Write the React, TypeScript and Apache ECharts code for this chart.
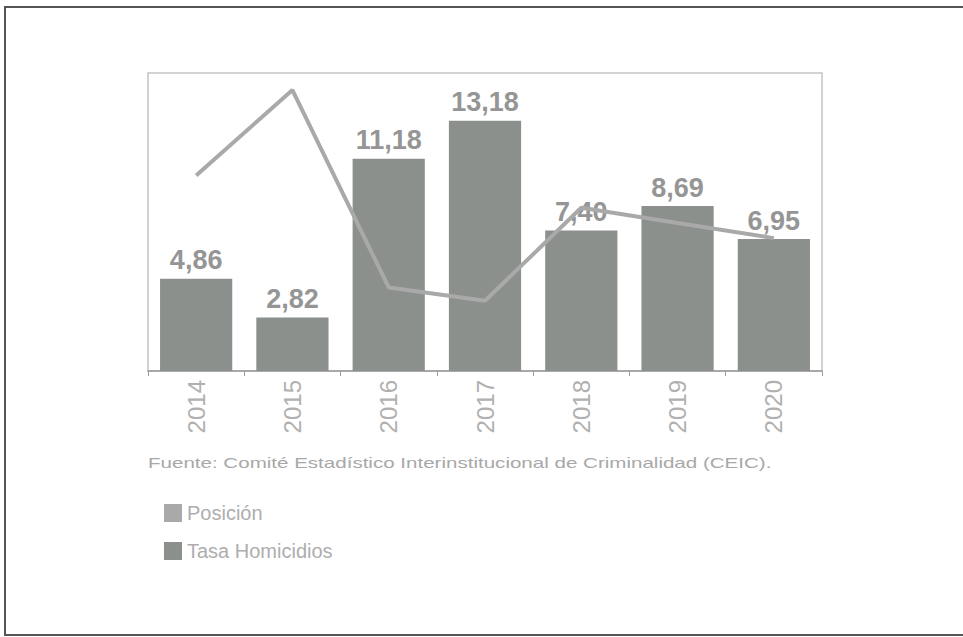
import React, { useEffect, useRef } from "react";
import * as echarts from "echarts";

const years = ["2014", "2015", "2016", "2017", "2018", "2019", "2020"];
const tasaHomicidios = [4.86, 2.82, 11.18, 13.18, 7.4, 8.69, 6.95];
const posicion = [10.3, 14.8, 4.4, 3.7, 8.6, 7.8, 7.0];
const sourceText = "Fuente: Comité Estadístico Interinstitucional de Criminalidad (CEIC).";

const fmt = (v: number) => v.toFixed(2).replace(".", ",");

export default function App() {
  const ref = useRef<HTMLDivElement>(null);
  useEffect(() => {
    document.body.style.margin = "0";
    const chart = echarts.init(ref.current!, null, { renderer: "svg" });
    const font = "'Liberation Sans', Arial, sans-serif";
    chart.setOption({
      animation: false,
      backgroundColor: "#ffffff",
      grid: { left: 148, right: 141, top: 73, bottom: 266, show: true, borderColor: "#c4c4c4", borderWidth: 1.5 },
      legend: {
        orient: "vertical",
        left: 159,
        top: 498,
        itemWidth: 18,
        itemHeight: 18,
        itemGap: 18,
        icon: "rect",
        textStyle: { color: "#adadad", fontSize: 20, fontFamily: font },
        data: ["Posición", "Tasa Homicidios"],
      },
      xAxis: {
        type: "category",
        data: years,
        axisLine: { lineStyle: { color: "#9a9a9a", width: 1.5 } },
        axisTick: { show: true, length: 5, lineStyle: { color: "#9a9a9a" } },
        axisLabel: { rotate: 90, color: "#b0b0b0", fontSize: 24, fontFamily: font, margin: 9 },
      },
      yAxis: [
        { type: "value", min: 0, max: 15.7, show: false, splitLine: { show: false } },
        { type: "value", min: 0, max: 15.7, show: false, splitLine: { show: false } },
      ],
      series: [
        {
          name: "Tasa Homicidios",
          type: "bar",
          data: tasaHomicidios,
          barWidth: "75%",
          itemStyle: { color: "#8b908d" },
          label: {
            show: true,
            position: "top",
            distance: 5,
            color: "#959595",
            fontSize: 27,
            fontWeight: "bold",
            fontFamily: font,
            formatter: (p: any) => fmt(p.value),
          },
          z: 2,
        },
        {
          name: "Posición",
          type: "line",
          yAxisIndex: 1,
          data: posicion,
          symbol: "none",
          lineStyle: { color: "#a9a9a9", width: 4 },
          itemStyle: { color: "#a9a9a9" },
          z: 3,
        },
      ],
      graphic: [
        {
          type: "rect",
          shape: { x: 5, y: 7, width: 1000, height: 628 },
          style: { fill: "none", stroke: "#555", lineWidth: 2 },
          silent: true,
        },
        {
          type: "text",
          x: 148,
          y: 455,
          scaleX: 1.37,
          style: { text: sourceText, fill: "#a8a8a8", fontSize: 15, fontFamily: font },
        },
      ],
    });
    return () => chart.dispose();
  }, []);
  return <div ref={ref} style={{ width: 963, height: 637 }} />;
}
